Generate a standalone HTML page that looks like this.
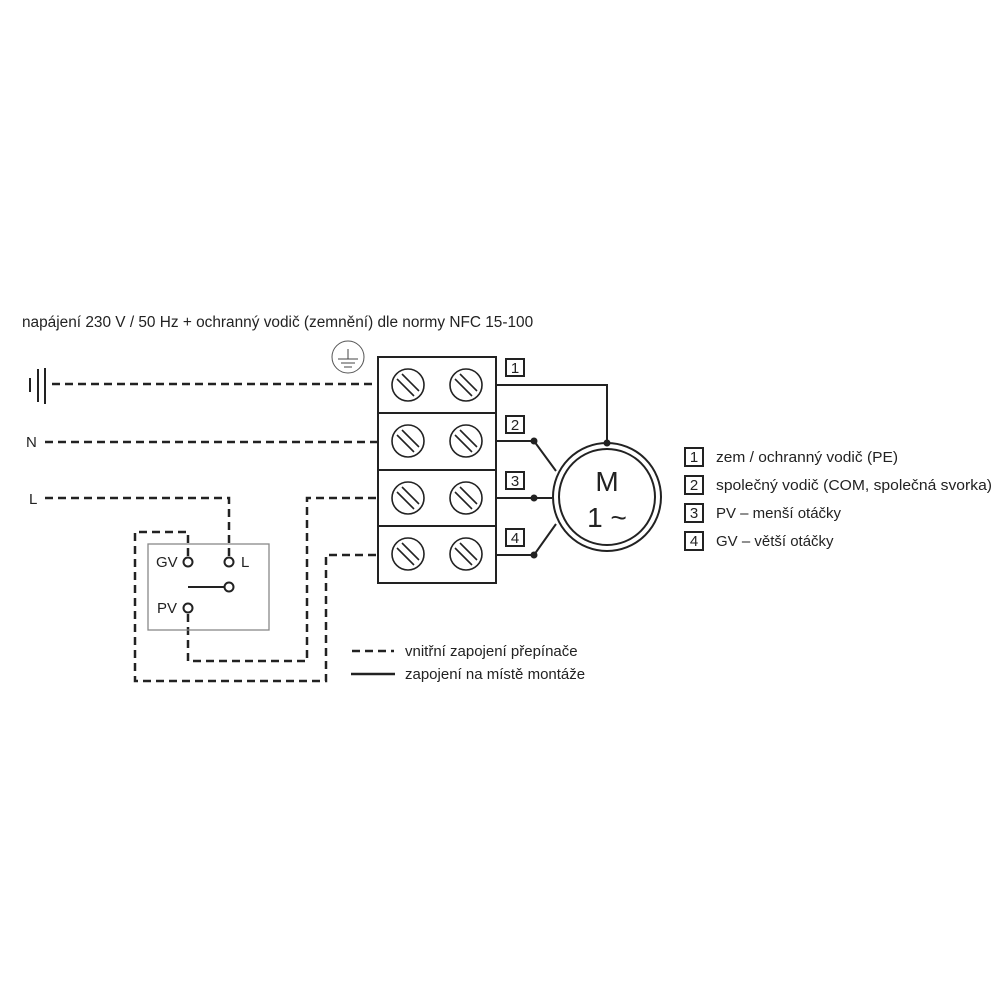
<!DOCTYPE html>
<html><head><meta charset="utf-8"><style>
html,body{margin:0;padding:0;background:#fff;}
svg{display:block;font-family:"Liberation Sans",Arial,sans-serif;}
</style></head><body>
<svg width="1000" height="1000" viewBox="0 0 1000 1000" xmlns="http://www.w3.org/2000/svg">
<rect width="1000" height="1000" fill="#fff"/>
<text x="22" y="327" font-size="15.4" fill="#222">napájení 230 V / 50 Hz + ochranný vodič (zemnění) dle normy NFC 15-100</text>
<g stroke="#222" stroke-width="2" fill="none">
<line x1="30" y1="378" x2="30" y2="392"/>
<line x1="38" y1="369" x2="38" y2="402"/>
<line x1="45" y1="368" x2="45" y2="404"/>
</g>
<circle cx="348" cy="357" r="16" fill="none" stroke="#555" stroke-width="1"/>
<g stroke="#444" stroke-width="1"><line x1="348" y1="349" x2="348" y2="359"/><line x1="338" y1="359" x2="358" y2="359"/><line x1="341" y1="363" x2="355" y2="363"/><line x1="344" y1="367" x2="352" y2="367"/></g>
<text x="26" y="447" font-size="15" fill="#222">N</text>
<text x="29" y="504" font-size="15" fill="#222">L</text>
<g stroke="#222" stroke-width="2.5" fill="none" stroke-dasharray="8,5">
<line x1="52" y1="384" x2="378" y2="384"/>
<line x1="45" y1="442" x2="378" y2="442"/>
<polyline points="45,498 229,498 229,556"/>
<polyline points="188,556 188,532 135,532 135,681 326,681 326,555 378,555"/>
<polyline points="188,614 188,661 307,661 307,498 378,498"/>
<line x1="352" y1="651" x2="394" y2="651"/>
</g>
<line x1="351" y1="674" x2="395" y2="674" stroke="#222" stroke-width="2.5"/>
<text x="405" y="656" font-size="15" fill="#222">vnitřní zapojení přepínače</text>
<text x="405" y="679" font-size="15" fill="#222">zapojení na místě montáže</text>
<rect x="148" y="544" width="121" height="86" fill="none" stroke="#888" stroke-width="1.3"/>
<g stroke="#222" stroke-width="2" fill="#fff">
<line x1="188" y1="587" x2="224" y2="587"/>
<circle cx="188" cy="562" r="4.5"/>
<circle cx="229" cy="562" r="4.5"/>
<circle cx="229" cy="587" r="4.5"/>
<circle cx="188" cy="608" r="4.5"/>
</g>
<text x="156" y="567" font-size="15" fill="#222">GV</text>
<text x="241" y="567" font-size="15" fill="#222">L</text>
<text x="157" y="613" font-size="15" fill="#222">PV</text>
<g stroke="#222" stroke-width="2" fill="none">
<rect x="378" y="357" width="118" height="226"/>
<line x1="378" y1="413" x2="496" y2="413"/>
<line x1="378" y1="470" x2="496" y2="470"/>
<line x1="378" y1="526" x2="496" y2="526"/>
</g>
<g stroke="#222" stroke-width="1.6" fill="none">
<g id="s"><circle cx="408" cy="385" r="16"/><line x1="397" y1="379" x2="414" y2="396"/><line x1="402" y1="374" x2="419" y2="391"/></g>
<use href="#s" x="58"/>
<use href="#s" y="56"/><use href="#s" x="58" y="56"/>
<use href="#s" y="113"/><use href="#s" x="58" y="113"/>
<use href="#s" y="169"/><use href="#s" x="58" y="169"/>
</g>
<g stroke="#222" stroke-width="2" fill="none">
<rect x="506" y="359" width="18" height="17"/>
<rect x="506" y="416" width="18" height="17"/>
<rect x="506" y="472" width="18" height="17"/>
<rect x="506" y="529" width="18" height="17"/>
</g>
<g font-size="15" fill="#222" text-anchor="middle">
<text x="515" y="373">1</text><text x="515" y="430">2</text><text x="515" y="486">3</text><text x="515" y="543">4</text>
</g>
<g stroke="#222" stroke-width="2" fill="none">
<polyline points="496,385 607,385 607,443"/>
<polyline points="496,441 534,441 556,471"/>
<line x1="496" y1="498" x2="552" y2="498"/>
<polyline points="496,555 534,555 556,524"/>
<circle cx="607" cy="497" r="54"/>
<circle cx="607" cy="497" r="48"/>
</g>
<g fill="#222"><circle cx="534" cy="441" r="3.5"/><circle cx="534" cy="498" r="3.5"/><circle cx="534" cy="555" r="3.5"/><circle cx="607" cy="443" r="3.5"/></g>
<text x="607" y="491" font-size="28" fill="#222" text-anchor="middle">M</text>
<text x="607" y="527" font-size="28" fill="#222" text-anchor="middle">1 ~</text>
<g stroke="#222" stroke-width="2" fill="none">
<rect x="685" y="448" width="18" height="18"/>
<rect x="685" y="476" width="18" height="18"/>
<rect x="685" y="504" width="18" height="18"/>
<rect x="685" y="532" width="18" height="18"/>
</g>
<g font-size="15" fill="#222">
<text x="694" y="462" text-anchor="middle">1</text>
<text x="694" y="490" text-anchor="middle">2</text>
<text x="694" y="518" text-anchor="middle">3</text>
<text x="694" y="546" text-anchor="middle">4</text>
<text x="716" y="462" textLength="182" lengthAdjust="spacingAndGlyphs">zem / ochranný vodič (PE)</text>
<text x="716" y="490" textLength="276" lengthAdjust="spacingAndGlyphs">společný vodič (COM, společná svorka)</text>
<text x="716" y="518">PV – menší otáčky</text>
<text x="716" y="546">GV – větší otáčky</text>
</g>
</svg>
</body></html>
